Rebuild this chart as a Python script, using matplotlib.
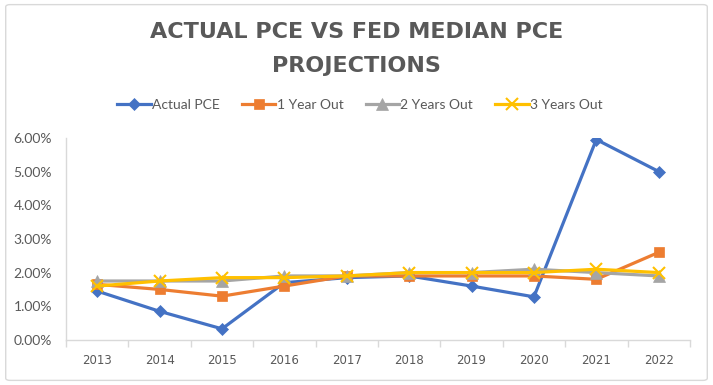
import numpy as np
import matplotlib.pyplot as plt
from matplotlib.patches import FancyBboxPatch
from matplotlib.ticker import PercentFormatter

years = ["2013", "2014", "2015", "2016", "2017", "2018", "2019", "2020", "2021", "2022"]
actual_pce = [1.45, 0.85, 0.33, 1.70, 1.85, 1.90, 1.60, 1.28, 5.95, 5.00]
one_year = [1.65, 1.50, 1.30, 1.60, 1.90, 1.90, 1.90, 1.90, 1.80, 2.60]
two_years = [1.75, 1.75, 1.75, 1.90, 1.90, 2.00, 2.00, 2.10, 2.00, 1.90]
three_years = [1.60, 1.75, 1.85, 1.85, 1.90, 2.00, 2.00, 2.00, 2.10, 2.00]

series = [
    ("Actual PCE", actual_pce, "#4472C4", "D", 6),
    ("1 Year Out", one_year, "#ED7D31", "s", 7),
    ("2 Years Out", two_years, "#A5A5A5", "^", 8),
    ("3 Years Out", three_years, "#FFC000", "x", 9),
]

text_col = "#595959"
plt.rcParams['font.family'] = ['Lato', 'DejaVu Sans']

fig = plt.figure(figsize=(7.13, 3.85), dpi=100)
fig.patches.append(FancyBboxPatch((0.008, 0.012), 0.984, 0.976,
                                  boxstyle="round,pad=0,rounding_size=0.006",
                                  transform=fig.transFigure, fill=False,
                                  edgecolor="#d9d9d9", linewidth=1.0))

ax = fig.add_axes([0.0926, 0.117, 0.875, 0.525])
x = np.arange(len(years))
for name, vals, col, mk, ms in series:
    ax.plot(x, np.array(vals) / 100, color=col, linewidth=2.3, marker=mk,
            markersize=ms, markeredgewidth=1.5 if mk == "x" else 0.5,
            markeredgecolor=col, label=name)

ax.set_xlim(-0.5, len(years) - 0.5)
ax.set_ylim(0, 0.06)
ax.set_yticks(np.arange(0, 0.061, 0.01))
ax.yaxis.set_major_formatter(PercentFormatter(1.0, decimals=2))
ax.set_xticks(x)
ax.set_xticklabels(years, family="DejaVu Sans")
ax.set_xticks(np.arange(-0.5, len(years), 1.0), minor=True)
ax.tick_params(axis="x", which="major", length=0, pad=10, labelsize=8.5,
               labelcolor=text_col)
ax.tick_params(axis="x", which="minor", length=5, color="#d9d9d9", width=1)
ax.tick_params(axis="y", length=0, pad=10, labelsize=10, labelcolor=text_col)
for s in ["top", "right"]:
    ax.spines[s].set_visible(False)
for s in ["left", "bottom"]:
    ax.spines[s].set_color("#d9d9d9")
    ax.spines[s].set_linewidth(1)

fig.text(0.5, 0.918, "ACTUAL PCE VS FED MEDIAN PCE", ha="center", va="center",
         fontsize=16, fontweight="bold", color=text_col, family="DejaVu Sans")
fig.text(0.5, 0.829, "PROJECTIONS", ha="center", va="center",
         fontsize=16, fontweight="bold", color=text_col, family="DejaVu Sans")

fig.legend(loc="center", bbox_to_anchor=(0.505, 0.728), ncol=4, frameon=False,
           fontsize=10, labelcolor=text_col, handlelength=2.4,
           handletextpad=0.1, columnspacing=1.6)

fig.savefig("out.png", dpi=100)
